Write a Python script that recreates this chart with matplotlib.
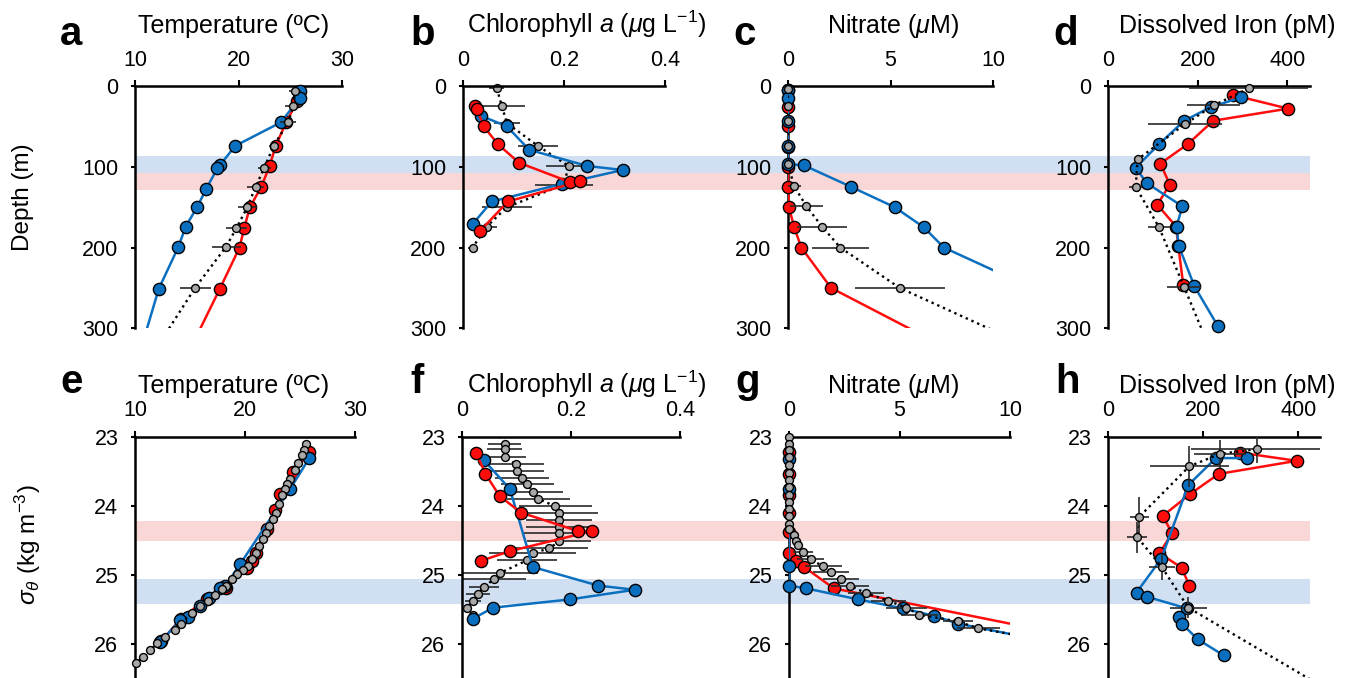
import numpy as np
import matplotlib.pyplot as plt

plt.rcParams['font.family'] = ['Liberation Sans', 'DejaVu Sans']
plt.rcParams['mathtext.fontset'] = 'custom'
plt.rcParams['mathtext.rm'] = 'Liberation Sans'
plt.rcParams['mathtext.it'] = 'Liberation Sans:italic'

BLUE = '#0b6fc0'
RED = '#ff0d0d'
GREY = '#a8a8a8'
BAND_BLUE = '#d0e0f2'
BAND_RED = '#fad7d7'

# ---------------- data: depth profiles (row 1) ----------------
a_blue_T = [25.9, 25.9, 24.1, 19.7, 18.2, 17.95, 16.9, 16.0, 14.9, 14.2, 12.3, 10.0]
a_blue_z = [6, 15, 45, 74, 98, 102, 127, 150, 174, 199, 251, 350]
a_red_T = [25.8, 25.7, 24.6, 23.6, 23.0, 22.2, 21.1, 20.55, 20.1, 18.2, 14.4]
a_red_z = [9, 18, 45, 74, 99, 125, 150, 176, 200, 251, 350]
a_grey_T = [25.45, 25.3, 24.8, 23.4, 22.5, 21.65, 20.85, 19.8, 18.8, 15.8, 10.8]
a_grey_z = [6, 25, 45, 74, 101, 125, 150, 176, 199, 250, 350]
a_grey_err = [0.6, 0.8, 0.8, 0.5, 0.6, 0.8, 0.9, 1.0, 1.4, 1.5, 0]

b_blue_c = [0.036, 0.087, 0.131, 0.246, 0.316, 0.197, 0.057, 0.019]
b_blue_z = [37, 50, 79, 99, 104, 121, 143, 171]
b_red_c = [0.024, 0.028, 0.041, 0.069, 0.111, 0.212, 0.232, 0.089, 0.033]
b_red_z = [25, 29, 50, 72, 95, 119, 118, 143, 180]
b_grey_c = [0.067, 0.077, 0.087, 0.148, 0.209, 0.200, 0.087, 0.047, 0.019]
b_grey_z = [3, 25, 46, 74, 99, 122, 150, 174, 200]
b_grey_err = [0.015, 0.045, 0.025, 0.04, 0.045, 0.058, 0.05, 0.02, 0.01]

c_blue_n = [0, 0, 0, 0, 0, 0.76, 3.09, 5.2, 6.63, 7.6, 11.9]
c_blue_z = [5, 15, 43, 74, 97, 98, 125, 150, 175, 200, 250]
c_red_n = [0, 0, 0, 0, 0, 0, 0.05, 0.3, 0.65, 2.1, 9.7]
c_red_z = [5, 26, 50, 75, 100, 125, 150, 175, 200, 250, 350]
c_grey_n = [0, 0, 0, 0, 0, 0.3, 0.9, 1.66, 2.55, 5.45, 14.1]
c_grey_z = [4, 25, 43, 74, 97, 124, 149, 174, 200, 250, 350]
c_grey_err = [0, 0, 0, 0, 0, 0.35, 0.8, 1.2, 1.4, 2.2, 0]

d_blue_fe = [298, 230, 170, 114, 62, 86, 166, 153, 158, 193, 245]
d_blue_z = [14, 26, 43, 72, 101, 120, 149, 174, 198, 248, 297]
d_red_fe = [278, 402, 235, 178, 117, 138, 110, 152, 157, 168]
d_red_z = [11, 28, 43, 72, 96, 122, 147, 174, 198, 246]
d_grey_fe = [314, 236, 172, 66, 62, 114, 170, 246]
d_grey_z = [3, 24, 47, 91, 125, 175, 249, 350]
d_grey_err = [133, 59, 83, 8, 14, 25, 38, 0]

# ---------------- data: density profiles (row 2) ----------------
e_blue_T = [25.85, 24.09, 19.55, 18.2, 17.7, 16.7, 15.9, 14.85, 14.1, 12.3]
e_blue_s = [23.31, 23.76, 24.85, 25.17, 25.2, 25.34, 25.46, 25.61, 25.66, 25.98]
e_red_T = [25.85, 24.4, 23.2, 22.7, 21.97, 21.0, 20.6, 20.15, 18.3, 16.5, 14.2, 12.4]
e_red_s = [23.22, 23.51, 23.83, 24.07, 24.34, 24.68, 24.8, 24.9, 25.2, 25.35, 25.64, 25.96]
e_grey_T = [25.85, 25.55, 25.36, 25.15, 24.85, 24.55, 24.09, 23.85, 23.64, 23.4, 23.1, 22.8,
            22.5, 22.2, 21.9, 21.6, 21.3, 21.0, 20.6, 20.3, 19.85, 19.3, 18.8, 18.3, 17.9,
            17.3, 16.67, 15.9, 15.15, 14.2, 13.6, 12.7, 12.0, 11.4, 10.7, 10.1]
e_grey_s = [22.98, 23.11, 23.19, 23.27, 23.38, 23.49, 23.61, 23.68, 23.76, 23.85, 23.98, 24.1,
            24.2, 24.29, 24.39, 24.49, 24.59, 24.68, 24.78, 24.88, 24.93, 24.99, 25.06, 25.16, 25.21,
            25.29, 25.38, 25.46, 25.55, 25.71, 25.8, 25.9, 25.99, 26.1, 26.2, 26.28]

f_blue_c = [0.04, 0.088, 0.13, 0.25, 0.317, 0.198, 0.057, 0.02]
f_blue_s = [23.34, 23.76, 24.89, 25.16, 25.22, 25.36, 25.48, 25.64]
f_red_c = [0.026, 0.043, 0.069, 0.108, 0.213, 0.238, 0.088, 0.035]
f_red_s = [23.23, 23.54, 23.86, 24.1, 24.37, 24.37, 24.66, 24.8]
f_grey_c = [0.069, 0.078, 0.078, 0.078, 0.099, 0.101, 0.110, 0.120, 0.130, 0.140, 0.171, 0.178,
            0.178, 0.178, 0.178, 0.178, 0.160, 0.130, 0.120, 0.069, 0.058, 0.040, 0.029, 0.020,
            0.009, 0.020]
f_grey_s = [22.99, 23.10, 23.18, 23.29, 23.40, 23.50, 23.60, 23.69, 23.80, 23.90, 24.01, 24.11,
            24.21, 24.31, 24.40, 24.52, 24.62, 24.69, 24.79, 24.98, 25.07, 25.18, 25.28, 25.38,
            25.48, 25.59]
f_grey_err = [0, 0.03, 0.032, 0.04, 0.052, 0.05, 0.049, 0.049, 0.055, 0.058, 0.067, 0.072,
              0.061, 0.06, 0.064, 0.058, 0.072, 0.08, 0.055, 0.07, 0.06, 0.028, 0.022, 0.015,
              0, 0]

g_blue_n = [0, 0, 0, 0, 0.78, 3.13, 5.16, 6.57, 7.64, 10.6]
g_blue_s = [23.32, 23.76, 24.88, 25.16, 25.2, 25.36, 25.49, 25.6, 25.71, 25.9]
g_red_n = [0, 0, 0, 0, 0, 0, 0.3, 0.68, 2.03, 10.6]
g_red_s = [23.22, 23.54, 23.85, 24.11, 24.38, 24.68, 24.8, 24.89, 25.2, 25.75]
g_grey_n = [0] * 14 + [0.23, 0.3, 0.4, 0.65, 0.98, 1.55, 1.9, 2.36, 2.74, 3.49, 4.5, 5.3,
                       5.9, 7.64, 8.57, 10.5]
g_grey_s = [23.0, 23.1, 23.2, 23.3, 23.41, 23.52, 23.63, 23.73, 23.84, 23.95, 24.05, 24.15,
            24.26, 24.34, 24.43, 24.51, 24.57, 24.67, 24.78, 24.88, 24.96, 25.06, 25.16, 25.27,
            25.38, 25.48, 25.58, 25.68, 25.78, 25.89]
g_grey_err = [0] * 14 + [0.05, 0.1, 0.15, 0.45, 0.6, 0.83, 0.8, 0.83, 0.86, 0.83, 0.8, 0.93,
                         0.83, 0.68, 0.98, 0]

h_blue_fe = [293, 227, 169, 112, 60, 81, 166, 150, 155, 189, 243]
h_blue_s = [23.31, 23.31, 23.7, 24.77, 25.26, 25.32, 25.49, 25.61, 25.71, 25.94, 26.17]
h_red_fe = [277, 397, 233, 173, 115, 135, 108, 155, 171]
h_red_s = [23.23, 23.35, 23.54, 23.83, 24.15, 24.4, 24.69, 24.9, 25.16]
h_grey_fe = [313, 235, 171, 66, 62, 113, 169, 445]
h_grey_s = [23.18, 23.25, 23.43, 24.16, 24.46, 24.89, 25.48, 26.6]
h_grey_xerr = [138, 55, 83, 20, 21, 27, 39, 0]
h_grey_yerr = [0.2, 0.2, 0.3, 0.28, 0.22, 0.19, 0.15, 0]


def profile(ax, x, y, color, big=True, xerr=None, yerr=None, z=3):
    x = np.asarray(x, float)
    y = np.asarray(y, float)
    if big:
        ax.plot(x, y, color=color, lw=1.8, zorder=z)
    else:
        ax.plot(x, y, color='k', lw=1.7, ls=':', zorder=z)
    x0, x1 = sorted(ax.get_xlim())
    y0, y1 = sorted(ax.get_ylim())
    inside = (x >= x0) & (x <= x1) & (y >= y0) & (y <= y1)
    if xerr is not None or yerr is not None:
        xe = None if xerr is None else np.asarray(xerr, float)[inside]
        ye = None if yerr is None else np.asarray(yerr, float)[inside]
        ax.errorbar(x[inside], y[inside], xerr=xe, yerr=ye, fmt='none',
                    ecolor='#2a2a2a', elinewidth=1.2, capsize=0, zorder=z + 0.1)
    ax.plot(x[inside], y[inside], 'o', mfc=color, mec='k', mew=1.0,
            ms=8.8 if big else 5.7, zorder=z + 0.2, clip_on=False)


def setup(ax, xlim, xticks, xlabels, ylim, yticks, ylabels):
    ax.set_facecolor('none')
    ax.set_xlim(xlim)
    ax.set_ylim(ylim)
    ax.xaxis.tick_top()
    ax.set_xticks(xticks)
    ax.set_xticklabels(xlabels)
    ax.set_yticks(yticks)
    ax.set_yticklabels(ylabels)
    for s in ['right', 'bottom']:
        ax.spines[s].set_visible(False)
    for s in ['top', 'left']:
        ax.spines[s].set_linewidth(1.8)
    ax.tick_params(axis='x', direction='out', length=4, width=1.5, pad=7, labelsize=15.5)
    ax.tick_params(axis='y', direction='out', length=3, width=1.5, pad=9, labelsize=15.5)


W, H = 1349, 678
fig = plt.figure(figsize=(W / 100, H / 100), dpi=100)

row1_bottom, row1_h = 1 - 328.3 / H, 242.3 / H
row2_bottom, row2_h = 0.0, (H - 436.7) / H
row1_ylim = (300, 0)
row2_ylim = (26.5, 23)

# shaded bands spanning all panels of each row
bg1 = fig.add_axes([135 / W, row1_bottom, 1175 / W, row1_h], zorder=0)
bg1.set_ylim(row1_ylim)
bg1.axhspan(86.3, 108.1, color=BAND_BLUE, lw=0)
bg1.axhspan(108.1, 129.2, color=BAND_RED, lw=0)
bg1.axis('off')

bg2 = fig.add_axes([135 / W, row2_bottom, 1175 / W, row2_h], zorder=0)
bg2.set_ylim(row2_ylim)
bg2.axhspan(24.22, 24.52, color=BAND_RED, lw=0)
bg2.axhspan(25.06, 25.42, color=BAND_BLUE, lw=0)
bg2.axis('off')

z1_ticks, z1_labels = [0, 100, 200, 300], ['0', '100', '200', '300']
s_ticks, s_labels = [23, 24, 25, 26], ['23', '24', '25', '26']

ax_a = fig.add_axes([135 / W, row1_bottom, 207 / W, row1_h], zorder=1)
ax_b = fig.add_axes([463 / W, row1_bottom, 202 / W, row1_h], zorder=1)
ax_c = fig.add_axes([788 / W, row1_bottom, 205 / W, row1_h], zorder=1)
ax_d = fig.add_axes([1108 / W, row1_bottom, 202 / W, row1_h], zorder=1)
ax_e = fig.add_axes([135 / W, row2_bottom, 220 / W, row2_h], zorder=1)
ax_f = fig.add_axes([462 / W, row2_bottom, 218 / W, row2_h], zorder=1)
ax_g = fig.add_axes([789 / W, row2_bottom, 221 / W, row2_h], zorder=1)
ax_h = fig.add_axes([1108 / W, row2_bottom, 212 / W, row2_h], zorder=1)

setup(ax_a, (10, 30), [10, 20, 30], ['10', '20', '30'], row1_ylim, z1_ticks, z1_labels)
setup(ax_b, (0, 0.4), [0, 0.2, 0.4], ['0', '0.2', '0.4'], row1_ylim, z1_ticks, z1_labels)
setup(ax_c, (0, 10), [0, 5, 10], ['0', '5', '10'], row1_ylim, z1_ticks, z1_labels)
setup(ax_d, (0, 451), [0, 200, 400], ['0', '200', '400'], row1_ylim, z1_ticks, z1_labels)
setup(ax_e, (10, 30), [10, 20, 30], ['10', '20', '30'], row2_ylim, s_ticks, s_labels)
setup(ax_f, (0, 0.4), [0, 0.2, 0.4], ['0', '0.2', '0.4'], row2_ylim, s_ticks, s_labels)
setup(ax_g, (0, 10), [0, 5, 10], ['0', '5', '10'], row2_ylim, s_ticks, s_labels)
setup(ax_h, (0, 446), [0, 200, 400], ['0', '200', '400'], row2_ylim, s_ticks, s_labels)

# row 1
profile(ax_a, a_red_T, a_red_z, RED, z=3)
profile(ax_a, a_blue_T, a_blue_z, BLUE, z=4)
profile(ax_a, a_grey_T, a_grey_z, GREY, big=False, xerr=a_grey_err, z=5)

profile(ax_b, b_grey_c, b_grey_z, GREY, big=False, xerr=b_grey_err, z=2)
profile(ax_b, b_blue_c, b_blue_z, BLUE, z=3)
profile(ax_b, b_red_c, b_red_z, RED, z=4)

profile(ax_c, c_red_n, c_red_z, RED, z=3)
profile(ax_c, c_blue_n, c_blue_z, BLUE, z=4)
profile(ax_c, c_grey_n, c_grey_z, GREY, big=False, xerr=c_grey_err, z=5)

profile(ax_d, d_red_fe, d_red_z, RED, z=3)
profile(ax_d, d_blue_fe, d_blue_z, BLUE, z=4)
profile(ax_d, d_grey_fe, d_grey_z, GREY, big=False, xerr=d_grey_err, z=5)

# row 2
profile(ax_e, e_red_T, e_red_s, RED, z=3)
profile(ax_e, e_blue_T, e_blue_s, BLUE, z=4)
profile(ax_e, e_grey_T, e_grey_s, GREY, big=False, z=5)

profile(ax_f, f_grey_c, f_grey_s, GREY, big=False, xerr=f_grey_err, z=2)
profile(ax_f, f_blue_c, f_blue_s, BLUE, z=3)
profile(ax_f, f_red_c, f_red_s, RED, z=4)

profile(ax_g, g_red_n, g_red_s, RED, z=3)
profile(ax_g, g_blue_n, g_blue_s, BLUE, z=4)
profile(ax_g, g_grey_n, g_grey_s, GREY, big=False, xerr=g_grey_err, z=5)

profile(ax_h, h_red_fe, h_red_s, RED, z=3)
profile(ax_h, h_blue_fe, h_blue_s, BLUE, z=4)
profile(ax_h, h_grey_fe, h_grey_s, GREY, big=False, xerr=h_grey_xerr, yerr=h_grey_yerr, z=5)

# titles, panel letters and y labels
titles = ['Temperature (ºC)', r'Chlorophyll $a$ ($\mu$g L$^{-1}$)',
          r'Nitrate ($\mu$M)', 'Dissolved Iron (pM)']
title_x = [234, 587, 893, 1227]
for row, (ty, letters, lx) in enumerate([(1 - 33 / H, 'abcd', [60, 410, 733, 1053]),
                                         (1 - 393 / H, 'efgh', [60, 410, 735, 1055])]):
    for t, x in zip(titles, title_x):
        fig.text(x / W, ty, t, ha='center', va='baseline', fontsize=18)
    ly = 1 - 45 / H if row == 0 else 1 - 393 / H
    for letter, x in zip(letters, lx):
        fig.text(x / W, ly, letter, ha='left', va='baseline', fontsize=29, fontweight='bold')

fig.text(23 / W, 1 - 197 / H, 'Depth (m)', rotation=90, ha='center', va='center', fontsize=17.5)
fig.text(28 / W, 1 - 545 / H, r'$\sigma_\theta$ (kg m$^{-3}$)', rotation=90,
         ha='center', va='center', fontsize=17.5)

fig.savefig('out.png', dpi=100)
